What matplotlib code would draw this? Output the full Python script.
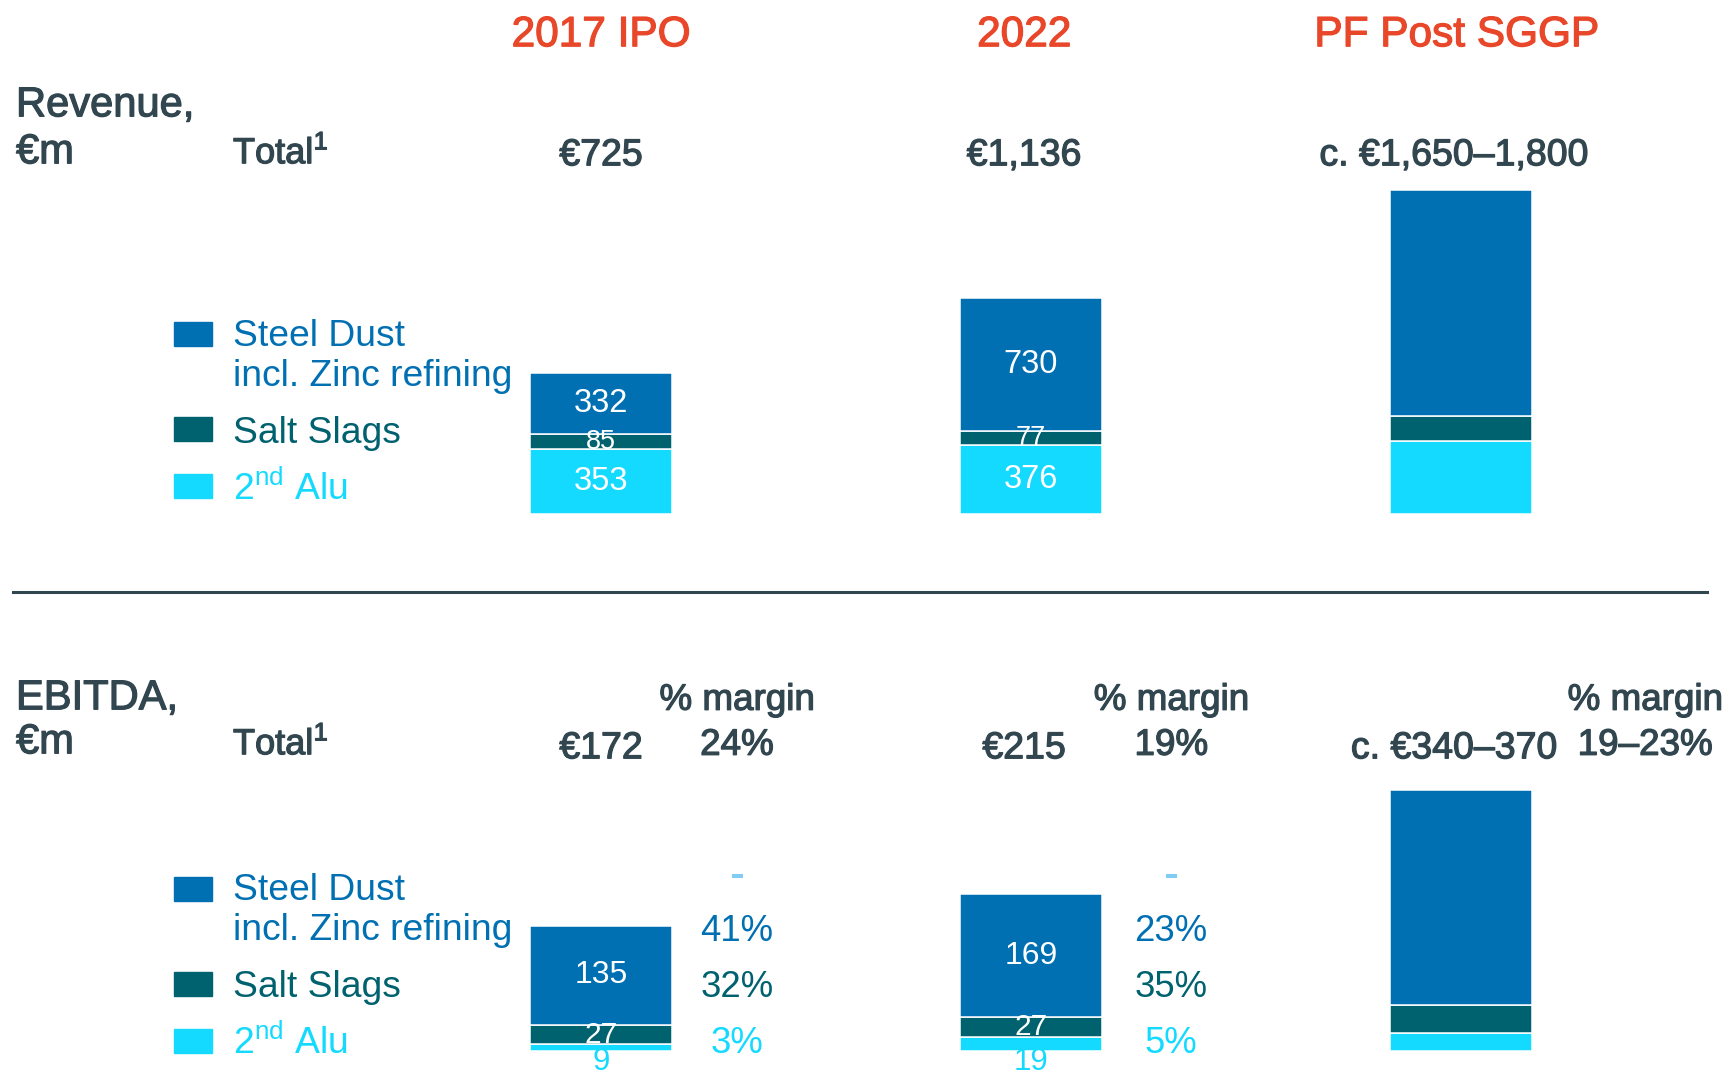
import matplotlib.pyplot as plt
import matplotlib.patheffects as pe
from matplotlib.patches import Rectangle
from matplotlib.lines import Line2D
import matplotlib.transforms as mtransforms

plt.rcParams['font.family'] = ['Liberation Sans', 'DejaVu Sans']
plt.rcParams['mathtext.fontset'] = 'custom'
plt.rcParams['mathtext.rm'] = 'Liberation Sans'

# --- data ---
periods = ['2017 IPO', '2022', 'PF Post SGGP']

rev_steel = [332, 730, 1235]
rev_salt = [85, 77, 135]
rev_alu = [353, 376, 400]
rev_total = ['€725', '€1,136', 'c. €1,650–1,800']
rev_show_values = [True, True, False]

ebitda_steel = [135, 169, 294]
ebitda_salt = [27, 27, 38]
ebitda_alu = [9, 19, 25]
ebitda_total = ['€172', '€215', 'c. €340–370']
ebitda_margin = ['24%', '19%', '19–23%']
ebitda_show_values = [True, True, False]
steel_margin = ['41%', '23%', None]
salt_margin = ['32%', '35%', None]
alu_margin = ['3%', '5%', None]

# --- colours ---
DARK = '#31464F'
ORANGE = '#E8472A'
STEEL = '#0070B3'
SALT = '#00616F'
ALU = '#15DAFF'
DASH = '#80CCF2'

W, H = 1729, 1074
fig = plt.figure(figsize=(W / 100, H / 100), dpi=100)


def fx(px):
    return px / W


def fy(px):
    return 1 - px / H


def fty(px):
    # text rows: centre of the glyphs sits slightly lower than the box centre
    return fy(px + 3.3)


medium = [pe.withStroke(linewidth=0.9, foreground=DARK)]
medium_orange = [pe.withStroke(linewidth=0.9, foreground=ORANGE)]

x = list(range(len(periods)))
xlim = (-601 / 430, (W - 601) / 430)
bar_w = 142 / 430

# revenue panel: 0.183 px per EUR m
ax_rev = fig.add_axes([0, fy(514), 1, (514 - 150) / H])
ax_rev.set_xlim(*xlim)
ax_rev.set_ylim(0, 364 / 0.183)
ax_rev.axis('off')

# EBITDA panel: 0.73 px per EUR m
ax_eb = fig.add_axes([0, fy(1051), 1, (1051 - 760) / H])
ax_eb.set_xlim(*xlim)
ax_eb.set_ylim(0, 291 / 0.73)
ax_eb.axis('off')


def stacked(ax, alu, salt, steel):
    mid = [a + s for a, s in zip(alu, salt)]
    ax.bar(x, alu, bar_w, color=ALU, edgecolor='white', linewidth=1.1)
    ax.bar(x, salt, bar_w, bottom=alu, color=SALT, edgecolor='white', linewidth=1.1)
    ax.bar(x, steel, bar_w, bottom=mid, color=STEEL, edgecolor='white', linewidth=1.1)
    return mid


mid_rev = stacked(ax_rev, rev_alu, rev_salt, rev_steel)
mid_eb = stacked(ax_eb, ebitda_alu, ebitda_salt, ebitda_steel)

for i in x:
    if not rev_show_values[i]:
        continue
    ax_rev.text(i, mid_rev[i] + rev_steel[i] / 2, str(rev_steel[i]), ha='center', va='center',
                color='white', fontsize=23.5)
    ax_rev.text(i, rev_alu[i] + rev_salt[i] / 2, str(rev_salt[i]), ha='center', va='center',
                color='white', fontsize=19.5)
    ax_rev.text(i, rev_alu[i] / 2, str(rev_alu[i]), ha='center', va='center',
                color='white', fontsize=23.5)

for i in x:
    if not ebitda_show_values[i]:
        continue
    ax_eb.text(i, mid_eb[i] + ebitda_steel[i] / 2, str(ebitda_steel[i]), ha='center', va='center',
               color='white', fontsize=23)
    ax_eb.text(i, ebitda_alu[i] + ebitda_salt[i] / 2, str(ebitda_salt[i]), ha='center', va='center',
               color='white', fontsize=21.5)
    ax_eb.annotate(str(ebitda_alu[i]), xy=(i, 0), xytext=(0, -8), textcoords='offset points',
                   ha='center', va='center', color=ALU, fontsize=22.5)

# column headers and totals (x from data, y in figure)
tr_rev = mtransforms.blended_transform_factory(ax_rev.transData, fig.transFigure)
tr_eb = mtransforms.blended_transform_factory(ax_eb.transData, fig.transFigure)

head_dx = [0, -0.016, -0.01]
total_dx = [0, -0.016, -0.016]
for i, name in enumerate(periods):
    fig.text(i + head_dx[i], fy(35.2), name, transform=tr_rev, ha='center', va='center',
             color=ORANGE, fontsize=30.5, path_effects=medium_orange)
    fig.text(i + total_dx[i], fty(152), rev_total[i], transform=tr_rev, ha='center', va='center',
             color=DARK, fontsize=27, path_effects=medium)
    fig.text(i + total_dx[i], fty(745), ebitda_total[i], transform=tr_eb, ha='center', va='center',
             color=DARK, fontsize=27, path_effects=medium)

margin_dx = [0.316, 0.326, 0.428]
for i in x:
    mx = i + margin_dx[i]
    fig.text(mx, fty(697), '% margin', transform=tr_eb, ha='center', va='center',
             color=DARK, fontsize=26.5, path_effects=medium)
    fig.text(mx, fty(742), ebitda_margin[i], transform=tr_eb, ha='center', va='center',
             color=DARK, fontsize=26.5, path_effects=medium)
    if steel_margin[i] is None:
        continue
    fig.text(mx, fy(876), '-', transform=tr_eb, ha='center', va='center',
             color=DASH, fontsize=28, path_effects=[pe.withStroke(linewidth=0.8, foreground=DASH)])
    fig.text(mx, fty(928), steel_margin[i], transform=tr_eb, ha='center', va='center',
             color=STEEL, fontsize=26.3)
    fig.text(mx, fty(984), salt_margin[i], transform=tr_eb, ha='center', va='center',
             color=SALT, fontsize=26.3)
    fig.text(mx, fty(1040), alu_margin[i], transform=tr_eb, ha='center', va='center',
             color=ALU, fontsize=26.3)

# row titles
for title, y1, y2, yt in [('Revenue,', 102, 149, 150), ('EBITDA,', 695, 739, 741)]:
    fig.text(fx(16), fty(y1), title, ha='left', va='center', color=DARK, fontsize=30,
             path_effects=medium)
    fig.text(fx(16), fty(y2), '€m', ha='left', va='center', color=DARK, fontsize=30,
             path_effects=medium)
    fig.text(fx(233), fty(yt), r'Total$^{1}$', ha='left', va='center', color=DARK, fontsize=26,
             path_effects=medium)

# legends
legend_rows = [
    (STEEL, ['Steel Dust', 'incl. Zinc refining']),
    (SALT, ['Salt Slags']),
    (ALU, [r'2$^{\mathrm{nd}}$ Alu']),
]
for ys in [[(334, 333, 373), (429, 430), (486, 486)],
           [(889, 887, 927), (984, 984), (1041, 1040)]]:
    for (col, lines), pos in zip(legend_rows, ys):
        fig.add_artist(Rectangle((fx(174), fy(pos[0] + 12)), 38 / W, 24 / H,
                                 transform=fig.transFigure, color=col))
        for line, ly in zip(lines, pos[1:]):
            fig.text(fx(233), fty(ly), line, ha='left', va='center', color=col, fontsize=26.8)

# divider between the two panels
fig.add_artist(Line2D([fx(13), fx(1707)], [fy(592), fy(592)], color=DARK, linewidth=2.2,
                      transform=fig.transFigure))

fig.savefig('out.png', dpi=100)
